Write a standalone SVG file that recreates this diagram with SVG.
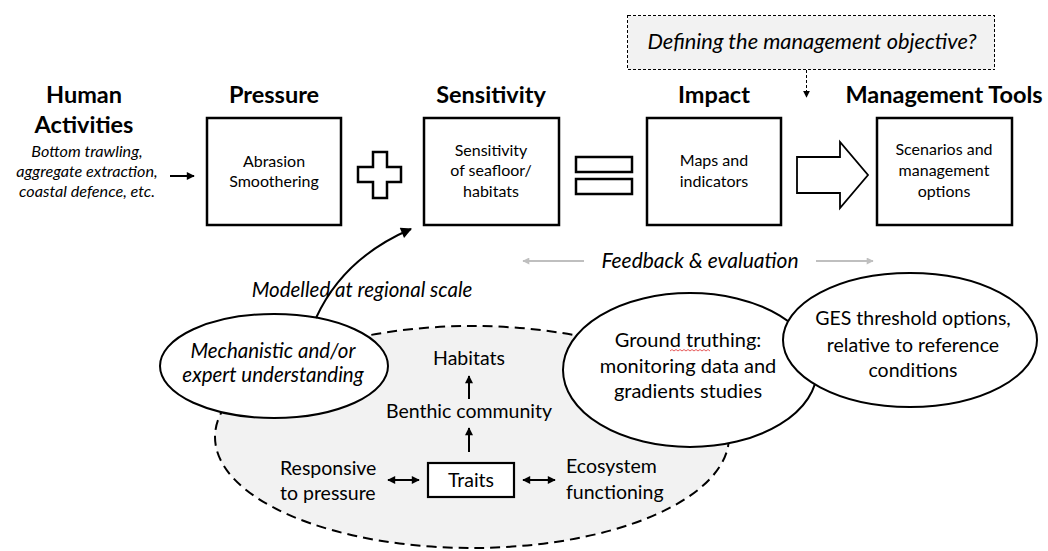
<svg xmlns="http://www.w3.org/2000/svg" width="1048" height="551" viewBox="0 0 1048 551">
<defs>
<style>
text{font-family:Lato,"Liberation Sans",sans-serif;fill:#000}
.title{font-size:23.5px;font-weight:bold;text-anchor:middle}
.box{fill:#fff;stroke:#000;stroke-width:2.5}
.bt{font-size:16px;text-anchor:middle}
.lst{font-size:16.2px;font-style:italic;text-anchor:middle}
.lbl{font-size:20.5px;font-style:italic;text-anchor:middle}
.reg{font-size:19.5px}
.big{font-size:20px;text-anchor:middle}
.mid{text-anchor:middle}
.ell{fill:#fff;stroke:#000;stroke-width:2}
.ln{stroke:#000;stroke-width:2;fill:none}
.grey{stroke:#bfbfbf;stroke-width:2;fill:none}
</style>
<marker id="ah" viewBox="0 0 10 10" refX="9" refY="5" markerUnits="userSpaceOnUse" markerWidth="9" markerHeight="8" orient="auto-start-reverse">
<path d="M0,0L10,5L0,10z" fill="#000"/>
</marker>
<marker id="ahg" viewBox="0 0 10 10" refX="9" refY="5" markerUnits="userSpaceOnUse" markerWidth="9" markerHeight="7" orient="auto-start-reverse">
<path d="M0,0L10,5L0,10z" fill="#bfbfbf"/>
</marker>
<marker id="ahs" viewBox="0 0 10 10" refX="9" refY="5" markerUnits="userSpaceOnUse" markerWidth="7" markerHeight="7" orient="auto">
<path d="M0,0L10,5L0,10z" fill="#000"/>
</marker>
<marker id="ahc" viewBox="0 0 10 10" refX="9" refY="5" markerUnits="userSpaceOnUse" markerWidth="12" markerHeight="11" orient="auto">
<path d="M0,0L10,5L0,10z" fill="#000"/>
</marker>
</defs>
<rect width="1048" height="551" fill="#fff"/>

<g id="objective">
<rect x="627.5" y="15.5" width="367" height="54" fill="#f2f2f2" stroke="#000" stroke-width="1" stroke-dasharray="3,2" shape-rendering="crispEdges"/>
<text x="812" y="49" class="lbl" style="font-size:21.8px">Defining the management objective?</text>
</g>

<g id="human-activities">
<text x="84" y="103" class="title">Human</text>
<text x="84" y="133" class="title">Activities</text>
<text x="87" y="157" class="lst">Bottom trawling,</text>
<text x="87" y="177" class="lst">aggregate extraction,</text>
<text x="87" y="197" class="lst">coastal defence, etc.</text>
</g>

<g id="pressure">
<text x="274" y="103" class="title">Pressure</text>
<rect x="207" y="118" width="134" height="107" class="box"/>
<text x="274" y="167" class="bt">Abrasion</text>
<text x="274" y="187" class="bt">Smoothering</text>
</g>

<g id="plus">
<path d="M373,152H387V167H401V182H387V198H373V182H358V167H373Z" class="box"/>
</g>

<g id="sensitivity">
<text x="491" y="103" class="title">Sensitivity</text>
<rect x="424" y="118" width="135" height="107" class="box"/>
<text x="491" y="156" class="bt">Sensitivity</text>
<text x="491" y="176" class="bt">of seafloor/</text>
<text x="491" y="197" class="bt">habitats</text>
</g>

<g id="equals">
<rect x="576" y="157" width="56" height="15" class="box"/>
<rect x="576" y="179" width="56" height="15" class="box"/>
</g>

<g id="impact">
<text x="714" y="103" class="title">Impact</text>
<rect x="647" y="118" width="134" height="107" class="box"/>
<text x="714" y="166" class="bt">Maps and</text>
<text x="714" y="187" class="bt">indicators</text>
</g>

<g id="block-arrow">
<path d="M797,157H840V142L868,175L840,208V193H797Z" fill="#fff" stroke="#000" stroke-width="1.8"/>
</g>

<g id="management-tools">
<text x="944" y="103" class="title">Management Tools</text>
<rect x="877" y="118" width="135" height="107" class="box"/>
<text x="944" y="155" class="bt">Scenarios and</text>
<text x="944" y="176" class="bt">management</text>
<text x="944" y="197" class="bt">options</text>
</g>

<g id="trait-area">
<ellipse cx="472" cy="437" rx="257" ry="111" fill="#f2f2f2" stroke="#000" stroke-width="2" stroke-dasharray="10,6"/>
<text x="469" y="365" class="reg mid">Habitats</text>
<text x="469" y="418" class="reg mid">Benthic community</text>
<text x="280" y="475" class="reg">Responsive</text>
<text x="280" y="500" class="reg">to pressure</text>
<text x="566" y="473" class="reg">Ecosystem</text>
<text x="566" y="499" class="reg">functioning</text>
</g>

<g id="traits">
<rect x="428" y="463" width="86" height="34" fill="#fff" stroke="#000" stroke-width="2.2"/>
<text x="471" y="487" class="reg mid">Traits</text>
</g>

<g id="mechanistic">
<ellipse cx="274" cy="366" rx="114" ry="52" class="ell"/>
<text x="273" y="358" class="lbl">Mechanistic and/or</text>
<text x="273" y="382" class="lbl">expert understanding</text>
</g>

<g id="ground-truthing">
<ellipse cx="690" cy="370" rx="127" ry="77" class="ell"/>
<text x="688" y="347" class="big">Ground truthing:</text>
<path d="M670,351l2,-1.5l2,1.5l2,-1.5l2,1.5l2,-1.5l2,1.5l2,-1.5l2,1.5l2,-1.5l2,1.5l2,-1.5l2,1.5l2,-1.5l2,1.5l2,-1.5l2,1.5l2,-1.5l2,1.5l2,-1.5l2,1.5" fill="none" stroke="#e03030" stroke-width="0.8"/>
<text x="688" y="373" class="big">monitoring data and</text>
<text x="688" y="398" class="big">gradients studies</text>
</g>

<g id="ges">
<ellipse cx="910" cy="340" rx="127" ry="67" class="ell"/>
<text x="913" y="325" class="big" style="font-size:19.5px">GES threshold options,</text>
<text x="913" y="352" class="big" style="font-size:19.5px">relative to reference</text>
<text x="913" y="377" class="big" style="font-size:19.5px">conditions</text>
</g>

<g id="labels">
<text x="362" y="297" class="lbl">Modelled at regional scale</text>
<text x="700" y="268" class="lbl" style="font-size:21px">Feedback &amp; evaluation</text>
</g>

<g id="connectors">
<path d="M806.5,70V97" stroke="#000" stroke-width="1" stroke-dasharray="3,2" fill="none" marker-end="url(#ahs)"/>
<line x1="170" y1="176" x2="194" y2="176" class="ln" marker-end="url(#ah)"/>
<path d="M316,318C332,283 362,250 411,229" class="ln" marker-end="url(#ahc)"/>
<line x1="584" y1="261" x2="523" y2="261" class="grey" marker-end="url(#ahg)"/>
<line x1="816" y1="261" x2="873" y2="261" class="grey" marker-end="url(#ahg)"/>
<line x1="469" y1="399" x2="469" y2="376" class="ln" marker-end="url(#ah)"/>
<line x1="469" y1="452" x2="469" y2="428" class="ln" marker-end="url(#ah)"/>
<line x1="388" y1="480" x2="419" y2="480" class="ln" marker-start="url(#ah)" marker-end="url(#ah)"/>
<line x1="523" y1="480" x2="555" y2="480" class="ln" marker-start="url(#ah)" marker-end="url(#ah)"/>
</g>
</svg>
